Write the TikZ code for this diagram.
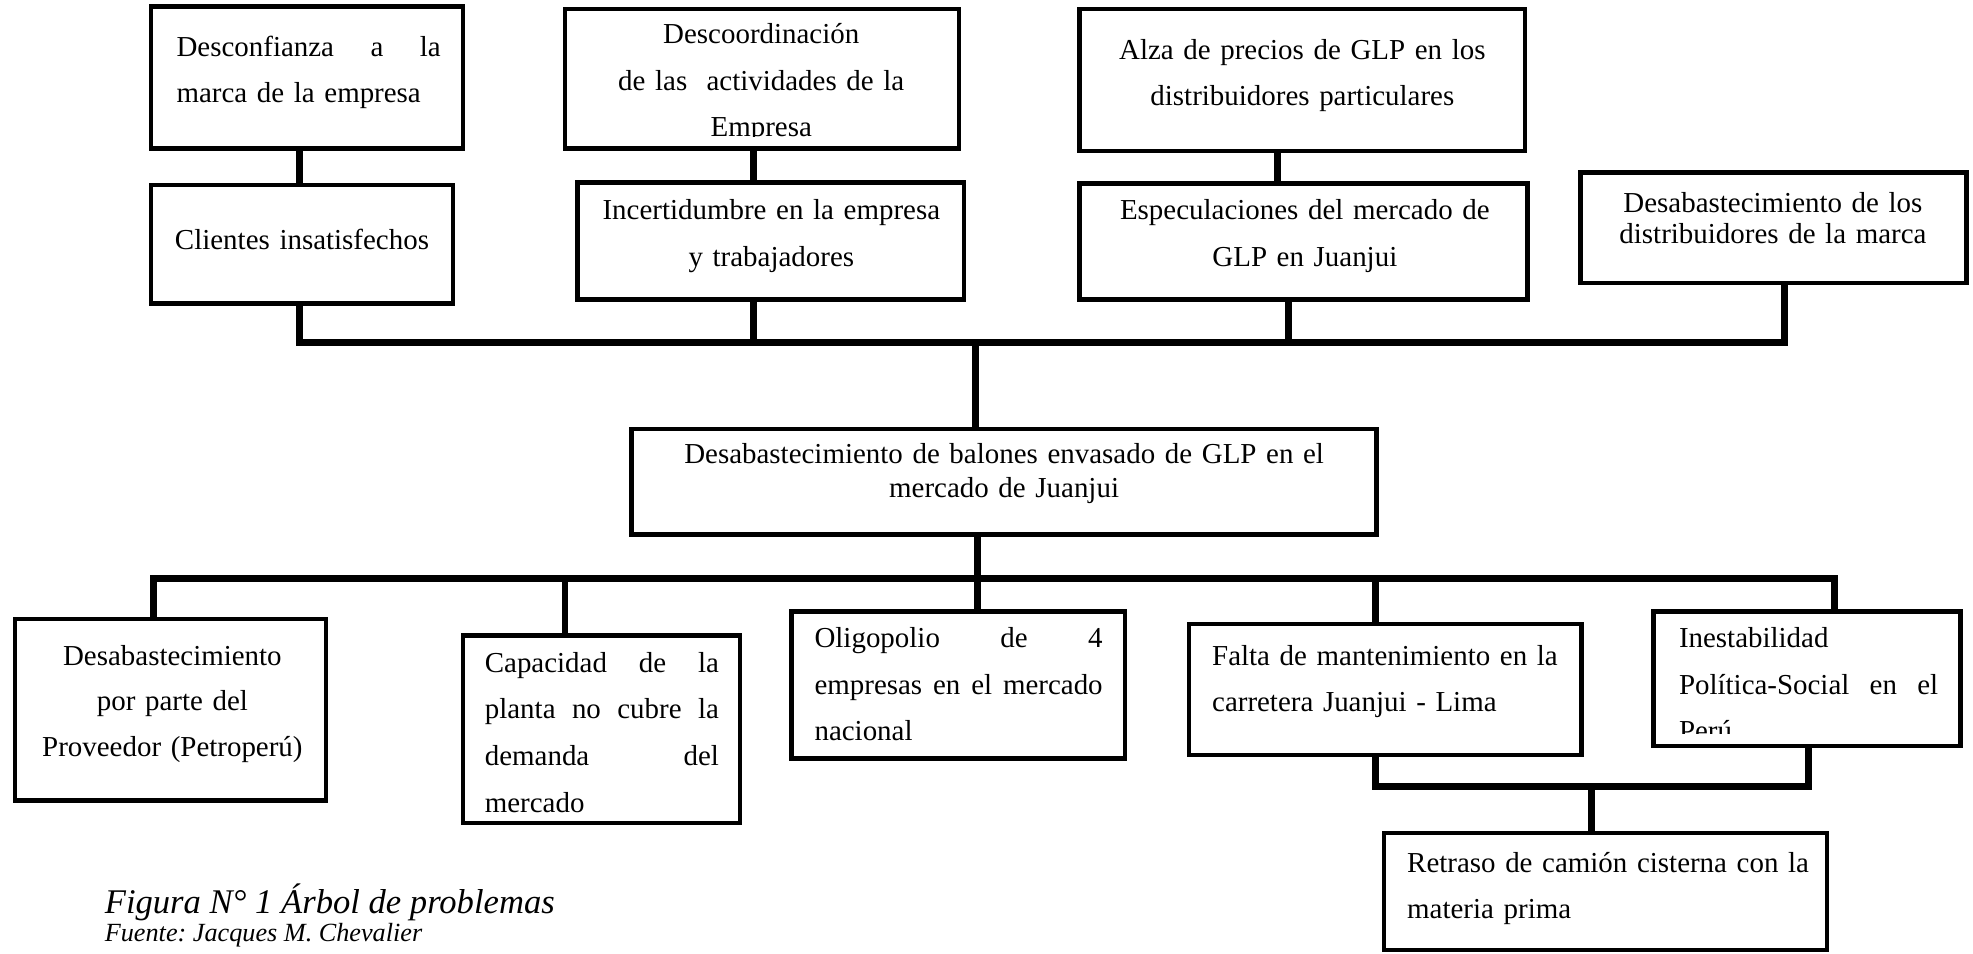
\documentclass[tikz,border=0pt]{standalone}
\usepackage{fontspec}
\setmainfont{Liberation Serif}
\usetikzlibrary{fit}
\frenchspacing
% one justified line of a given width (words separated by \hfill)
\newcommand\jline[2]{\makebox[#1][l]{#2}}
\begin{document}
\begin{tikzpicture}[x=0.6pt,y=-0.6pt,
  box/.style={draw=black, line width=2.2pt, inner sep=0pt, fill=white},
  conn/.style={draw=black, line width=3.2pt},
  txt/.style={inner sep=0pt, font=\fontsize{13.8}{22.2}\selectfont, align=center},
  ltxt/.style={txt, align=left, anchor=west},
  cap/.style={inner sep=0pt, anchor=base west, font=\itshape\fontsize{#1}{#1}\selectfont},
]
\useasboundingbox (0,0) rectangle (1568,758);

% ---- effects (upper rows)
\node[box, fit={(120,5) (368,118)}] (a1) {};
\node[box, fit={(449,7) (762,118)}] (b1) {};
\node[box, fit={(858,7) (1212,120)}] (c1) {};
\node[box, fit={(120,147) (360,241)}] (a2) {};
\node[box, fit={(459,145) (766,238)}] (b2) {};
\node[box, fit={(858,146) (1214,238)}] (c2) {};
\node[box, fit={(1256,137) (1563,225)}] (d2) {};

\node[ltxt, text width=126pt] (a1t) at (140,57.5)
  {\jline{126pt}{Desconfianza\hfill a\hfill la}\\marca de la empresa};
\begin{scope}
  \clip (449,0) rectangle (762,108.5);
  \node[txt, text width=200pt] (b1t) at (605,66)
    {Descoordinación\\de las~~actividades de la\\Empresa};
\end{scope}
\node[txt, text width=200pt] (c1t) at (1035,60)
  {Alza de precios de GLP en los\\distribuidores particulares};
\node[txt, text width=140pt] (a2t) at (240,190) {Clientes insatisfechos};
\node[txt, text width=180pt] (b2t) at (613,187.5)
  {Incertidumbre en la empresa\\y trabajadores};
\node[txt, text width=200pt] (c2t) at (1037,187.5)
  {Especulaciones del mercado de\\GLP en Juanjui};
\node[txt, text width=180pt, font=\fontsize{13.8}{15}\selectfont] (d2t) at (1409,173.5)
  {Desabastecimiento de los\\distribuidores de la marca};

% ---- central problem
\node[box, fit={(502,341) (1094,425)}] (m) {};
\node[txt, text width=320pt, font=\fontsize{13.8}{16.2}\selectfont] (mt) at (798,376.5)
  {Desabastecimiento de balones envasado de GLP en el\\mercado de Juanjui};

% ---- causes (lower rows)
\node[box, fit={(12,492) (259,636)}] (e1) {};
\node[box, fit={(368,505) (588,654)}] (e2) {};
\node[box, fit={(629,486) (894,603)}] (e3) {};
\node[box, fit={(945,496) (1257,600)}] (e4) {};
\node[box, fit={(1314,486) (1558,593)}] (e5) {};
\node[box, fit={(1100,662) (1452,755)}] (f) {};

\node[txt, text width=140pt, font=\fontsize{13.8}{21.9}\selectfont] (e1t) at (137,559.5)
  {Desabastecimiento\\por parte del\\Proveedor (Petroperú)};
\node[ltxt, text width=111.6pt] (e2t) at (385,582)
  {\jline{111.6pt}{Capacidad\hfill de\hfill la}\\
   \jline{111.6pt}{planta\hfill no\hfill cubre\hfill la}\\
   \jline{111.6pt}{demanda\hfill del}\\mercado};
\node[ltxt, text width=137.4pt] (e3t) at (647,544)
  {\jline{137.4pt}{Oligopolio\hfill de\hfill 4}\\
   \jline{137.4pt}{empresas\hfill en\hfill el\hfill mercado}\\nacional};
\node[ltxt, text width=180pt] (e4t) at (963,541.5)
  {Falta de mantenimiento en la\\carretera Juanjui - Lima};
\begin{scope}
  \clip (1314,480) rectangle (1558,583);
  \node[ltxt, text width=123.6pt] (e5t) at (1334,544)
    {Inestabilidad\\\jline{123.6pt}{Política-Social\hfill en\hfill el}\\Perú};
\end{scope}
\node[ltxt, text width=200pt] (ft) at (1118,706)
  {Retraso de camión cisterna con la\\materia prima};

% ---- connectors
\coordinate (tb) at (775,272);
\coordinate (lb) at (777,460);
\coordinate (fb) at (1265,625);

\draw[conn] (a1.south -| 238,0) -- (a2.north -| 238,0);
\draw[conn] (b1.south -| 599,0) -- (b2.north -| 599,0);
\draw[conn] (c1.south -| 1015,0) -- (c2.north -| 1015,0);

\draw[conn] (a2.south -| 238,0) |- (tb) -| (d2.south -| 1418,0);
\draw[conn] (b2.south -| 599,0) -- (tb -| 599,0);
\draw[conn] (c2.south -| 1024,0) -- (tb -| 1024,0);
\draw[conn] (tb) -- (m.north -| tb);

\draw[conn] (m.south -| lb) -- (lb);
\draw[conn] (e1.north -| 122,0) |- (lb) -| (e5.north -| 1458,0);
\draw[conn] (e2.north -| 449,0) -- (lb -| 449,0);
\draw[conn] (e3.north -| lb) -- (lb);
\draw[conn] (e4.north -| 1093,0) -- (lb -| 1093,0);

\draw[conn] (e4.south -| 1093,0) |- (fb) -| (e5.south -| 1437,0);
\draw[conn] (fb) -- (f.north -| fb);

% ---- caption
\node[cap=16.5] (fig) at (83,726) {Figura N° 1 Árbol de problemas};
\node[cap=12.5] (src) at (83,748) {Fuente: Jacques M. Chevalier};
\end{tikzpicture}
\end{document}
